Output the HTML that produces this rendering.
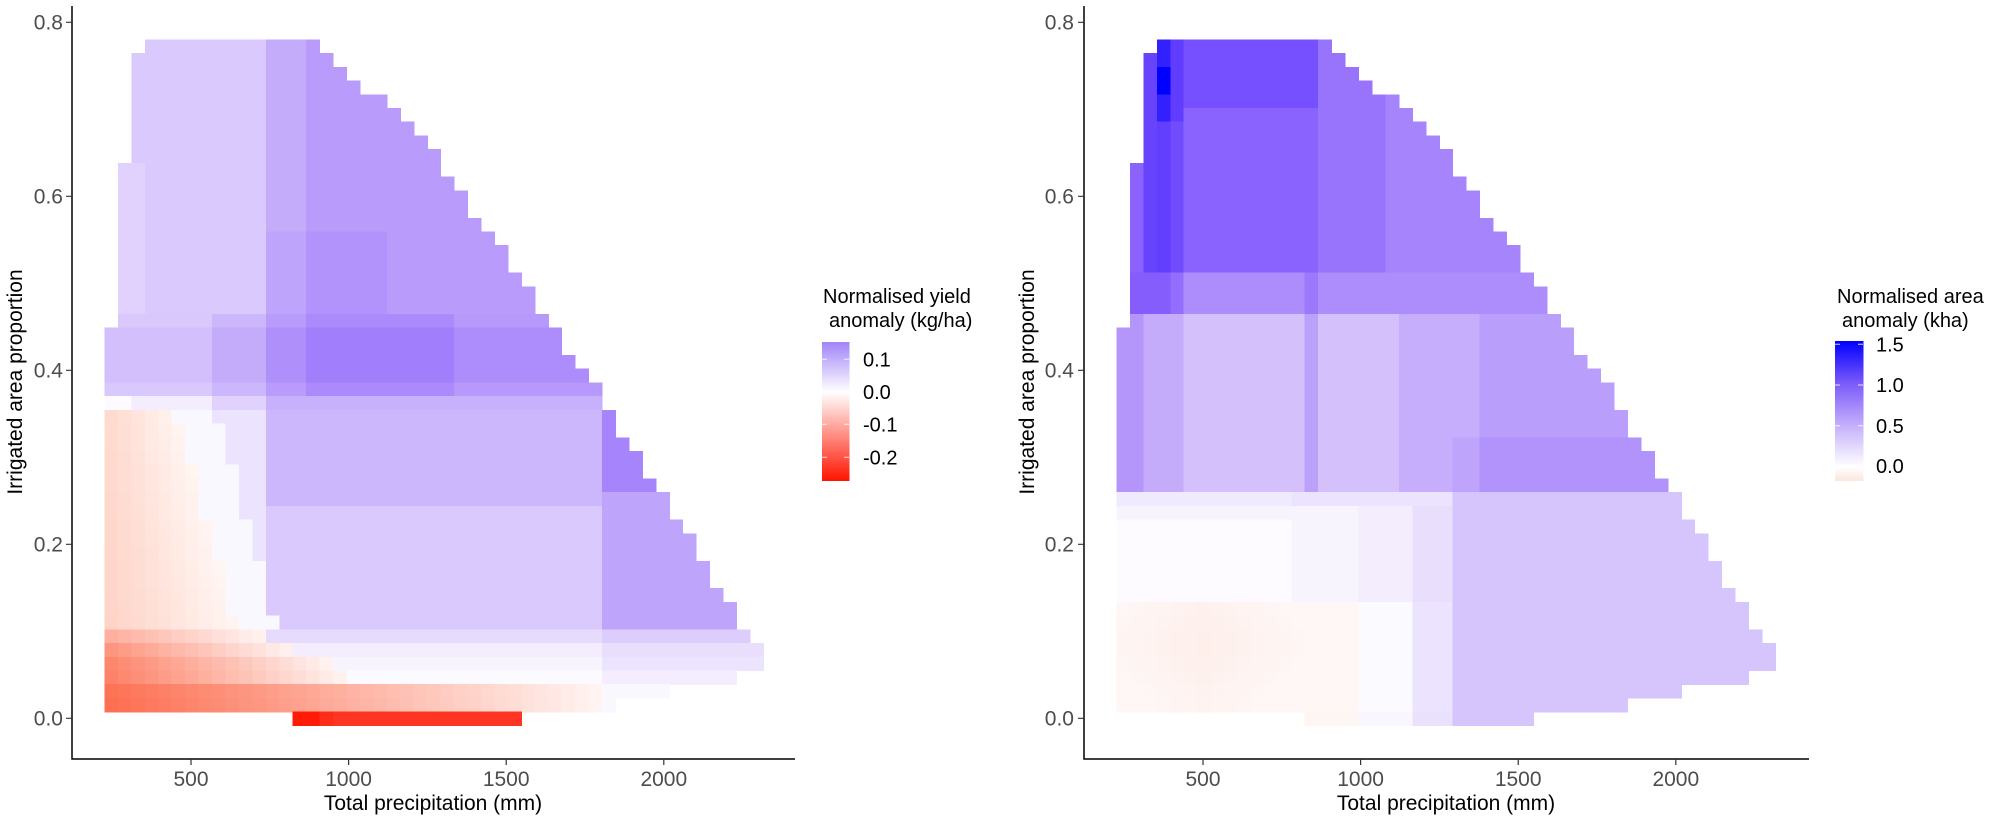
<!DOCTYPE html>
<html><head><meta charset="utf-8"><style>
html,body{margin:0;padding:0;background:#fff;}
svg{display:block;}
text{font-family:"Liberation Sans",sans-serif;}
</style></head><body>
<svg id="s" width="2007" height="821" viewBox="0 0 2007 821" xmlns="http://www.w3.org/2000/svg">
<defs>
<linearGradient id="g1" x1="0" y1="0" x2="0" y2="1">
<stop offset="0" stop-color="#a184f8"/><stop offset="0.36" stop-color="#ffffff"/><stop offset="1" stop-color="#ff1400"/>
</linearGradient>
<linearGradient id="g2" x1="0" y1="0" x2="0" y2="1">
<stop offset="0" stop-color="#0000ff"/><stop offset="0.3" stop-color="#7a5afa"/><stop offset="0.62" stop-color="#c8b4fb"/><stop offset="0.9" stop-color="#ffffff"/><stop offset="1" stop-color="#fbe6dc"/>
</linearGradient>
</defs>
<g id="tiles" shape-rendering="crispEdges"></g>
<g stroke="#000" stroke-width="1.5" fill="none">
<path d="M72,6V759H795"/>
<path d="M1084,6V759H1809"/>
</g>
<g stroke="#333" stroke-width="1.2">
<path d="M66,718.3H72M66,544.3H72M66,370.3H72M66,196.3H72M66,22.3H72"/>
<path d="M191,759V765M348.6,759V765M506.2,759V765M663.8,759V765"/>
<path d="M1078,718.3H1084M1078,544.3H1084M1078,370.3H1084M1078,196.3H1084M1078,22.3H1084"/>
<path d="M1203,759V765M1360.6,759V765M1518.2,759V765M1675.8,759V765"/>
</g>
<g font-size="21" fill="#4d4d4d" text-anchor="end">
<text x="63" y="725.5">0.0</text><text x="63" y="551.5">0.2</text><text x="63" y="377.5">0.4</text><text x="63" y="203.5">0.6</text><text x="63" y="29.5">0.8</text>
<text x="1074" y="725.5">0.0</text><text x="1074" y="551.5">0.2</text><text x="1074" y="377.5">0.4</text><text x="1074" y="203.5">0.6</text><text x="1074" y="29.5">0.8</text>
</g>
<g font-size="21" fill="#4d4d4d" text-anchor="middle">
<text x="191" y="786">500</text><text x="348.6" y="786">1000</text><text x="506.2" y="786">1500</text><text x="663.8" y="786">2000</text>
<text x="1203" y="786">500</text><text x="1360.6" y="786">1000</text><text x="1518.2" y="786">1500</text><text x="1675.8" y="786">2000</text>
</g>
<g font-size="21" fill="#000" text-anchor="middle">
<text x="433" y="810">Total precipitation (mm)</text>
<text x="1446" y="810">Total precipitation (mm)</text>
<text transform="translate(22,382) rotate(-90)">Irrigated area proportion</text>
<text transform="translate(1034,382) rotate(-90)">Irrigated area proportion</text>
</g>
<g font-size="20" fill="#000">
<text x="823" y="303">Normalised yield</text>
<text x="829" y="327">anomaly (kg/ha)</text>
<text x="1837" y="303">Normalised area</text>
<text x="1842" y="327">anomaly (kha)</text>
</g>
<rect x="822" y="342" width="27.5" height="139" fill="url(#g1)"/>
<rect x="1835" y="341" width="28.5" height="140" fill="url(#g2)"/>
<g stroke="#fff" stroke-width="1" opacity="0.8">
<path d="M822,359.3h5M844,359.3h5M822,391.7h5M844,391.7h5M822,424.3h5M844,424.3h5M822,457.3h5M844,457.3h5"/>
<path d="M1835,344.3h5M1858,344.3h5M1835,385h5M1858,385h5M1835,425.7h5M1858,425.7h5M1835,466h5M1858,466h5"/>
</g>
<g font-size="20" fill="#000">
<text x="863" y="366.5">0.1</text><text x="863" y="399">0.0</text><text x="863" y="431.5">-0.1</text><text x="863" y="464.5">-0.2</text>
<text x="1876" y="351.5">1.5</text><text x="1876" y="392">1.0</text><text x="1876" y="433">0.5</text><text x="1876" y="473">0.0</text>
</g>
</svg>
<script>
(function(){
var W=13.445,H=13.72,X0=104.5,Y0=39.4;
var RE=[16,17,18,19,21,22,23,24,25,25,26,27,27,28,29,30,30,31,32,32,33,34,34,35,36,37,37,38,38,39,40,40,41,42,42,43,44,44,45,45,46,47,47,48,49,49,47,42,38];
function LE(r){return r==0?3:(r<=8?2:(r<=20?1:0));}
var ramp=[[0,255,255,255],[0.33,214,196,252],[0.5,180,150,251],[0.67,140,100,253],[0.85,95,60,254],[1,0,0,255]];
function pur(t){t=Math.max(0,Math.min(1,t));for(var i=1;i<ramp.length;i++){if(t<=ramp[i][0]){var a=ramp[i-1],b=ramp[i],f=(t-a[0])/(b[0]-a[0]);return [a[1]+(b[1]-a[1])*f,a[2]+(b[2]-a[2])*f,a[3]+(b[3]-a[3])*f];}}return [0,0,255];}
function red(t,tc){t=Math.max(0,Math.min(1,t));tc=tc||[255,20,0];return [255+(tc[0]-255)*t,255+(tc[1]-255)*t,255+(tc[2]-255)*t];}
function hex(c){return 'rgb('+Math.round(c[0])+','+Math.round(c[1])+','+Math.round(c[2])+')';}
function leftCol(c,r){
 if(r==49){return red(c<=15?0.97:(c==16?0.9:0.86));}
 if(r<=19){var t=c<=11?0.3:(c<=14?0.42:0.48); if(r>=9&&c<=2)t=0.25; if(r>=14&&c>=12&&c<=20)t+=0.03; return pur(t);}
 if(r<=25){var t=c<=7?0.35:(c<=11?0.42:(c<=14?0.52:(c<=25?0.58:0.53))); if(r==20||r==25)t-=0.04; return pur(t);}
 if(r==26){var t=c<=1?0.02:(c<=7?0.1:(c<=11?0.25:0.4));return pur(t);}
 if(r<=42){
  var b=5+(r-27)*0.28;
  if(c>=37) return pur(r<=32?0.56:0.45);
  if(c<b) return red(0.06+0.2*(1-c/b)*(0.8+0.2*(r-27)/15),[252,90,40]);
  if(c<b+3) return pur(0.04);
  if(c<12) return pur(0.15);
  return pur(r<=33?0.38:0.3);
 }
 var rt={43:[0.37,12,0.2,0.28],44:[0.5,14,0.1,0.18],45:[0.58,17,0.06,0.15],46:[0.6,18,0.03,0.1],47:[0.68,37,0.02,0.04],48:[0.7,37,0.02,0.04]}[r];
 if(c<rt[1]){return red(rt[0]*(1-c/rt[1])+0.04,[252,60,20]);}
 return pur(c>=37?rt[3]:rt[2]);
}
function rightCol(c,r){
 if(r==49){ if(c<=17)return red(0.07,[245,120,80]); if(c<=21)return pur(0.05); if(c<=24)return pur(0.17); return pur(0.33);}
 if(r<=16){
  if(c==3){ if(r==2||r==3)return pur(1); if(r<=5)return pur(0.92); return pur(0.84);}
  if(c==2)return pur(0.82);
  if(c==4)return pur(r<=5?0.85:0.78);
  if(c<=14)return pur(r<=4?0.76:0.68);
  if(c<=19)return pur(0.62);
  return pur(0.56);
 }
 if(r<=19){ if(c<=3)return pur(0.7); if(c==4)return pur(0.64); if(c==14)return pur(0.6); return pur(0.53);}
 if(r<=32){
  var t; if(c<=1)t=0.5; else if(c<=4)t=0.42; else if(c<=13)t=0.34; else if(c==14)t=0.46; else if(c<=20)t=0.34; else if(c<=26)t=0.41; else t=0.47;
  if(r>=29&&c>=25)t+=0.04; return pur(t);
 }
 if(r==33){return pur(c>=25?0.33:(c>=13?0.15:0.12));}
 if(r<=40){ var t=c<=12?0.02:(c<=17?0.06:(c<=21?0.1:(c<=24?0.18:0.33))); if(r==34&&c<=12)t=0.06; return pur(t);}
 if(c<=17){var d=Math.abs(c-6)/8,e=Math.abs(r-43.5)/4; return red(0.06+0.06*Math.max(0,1-d-e*0.5),[245,120,80]);}
 if(c<=21)return pur(0.03); if(c<=24)return pur(0.15); return pur(0.33);
}
var g=document.getElementById('tiles'),html='';
function panel(off,fn){
 for(var r=0;r<50;r++){
  var a,b; if(r==49){a=14;b=31;} else {a=LE(r);b=RE[r];}
  for(var c=a;c<b;c++){
   var x=off+X0+c*W,y=Y0+r*H;
   html+='<rect x="'+x.toFixed(2)+'" y="'+y.toFixed(2)+'" width="'+(W+0.6).toFixed(2)+'" height="'+(H+0.6).toFixed(2)+'" fill="'+hex(fn(c,r))+'"/>';
  }
 }
}
panel(0,leftCol);panel(1012,rightCol);
g.innerHTML=html;
})();
</script>
</body></html>
